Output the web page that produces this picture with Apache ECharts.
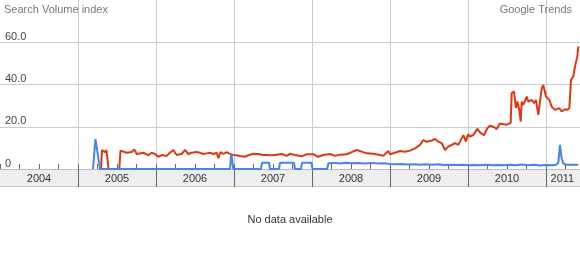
<!DOCTYPE html>
<html>
<head>
<meta charset="utf-8">
<script src="https://cdn.jsdelivr.net/npm/echarts@6/dist/echarts.min.js"></script>
<style>
  html, body { margin: 0; padding: 0; background: #ffffff; }
  #chart { width: 580px; height: 260px; }
</style>
</head>
<body>
<div id="chart"></div>
<script>
// Decimal-year positions and Search Volume index values
const redYears = [2005.295,2005.308,2005.333,2005.346,2005.365,2005.385,2005.392,2005.529,2005.545,2005.560,
  2005.624,2005.688,2005.722,2005.753,2005.837,2005.901,2005.945,2005.987,2006.029,2006.073,
  2006.137,2006.179,2006.222,2006.265,2006.329,2006.372,2006.414,2006.458,2006.522,2006.564,
  2006.606,2006.650,2006.692,2006.735,2006.778,2006.799,2006.829,2006.863,2006.906,2006.949,
  2006.991,2007.035,2007.077,2007.141,2007.183,2007.247,2007.269,2007.312,2007.376,2007.419,
  2007.483,2007.547,2007.612,2007.676,2007.718,2007.782,2007.868,2007.932,2008.017,2008.077,
  2008.145,2008.231,2008.295,2008.359,2008.445,2008.509,2008.573,2008.637,2008.701,2008.786,
  2008.872,2008.914,2008.978,2009.000,2009.064,2009.128,2009.192,2009.256,2009.321,2009.385,
  2009.427,2009.471,2009.535,2009.577,2009.619,2009.663,2009.705,2009.747,2009.791,2009.833,
  2009.876,2009.919,2009.942,2009.974,2010.000,2010.026,2010.068,2010.119,2010.163,2010.205,
  2010.247,2010.282,2010.324,2010.368,2010.410,2010.453,2010.496,2010.547,2010.560,2010.590,
  2010.615,2010.632,2010.658,2010.676,2010.688,2010.709,2010.753,2010.773,2010.795,2010.817,
  2010.846,2010.872,2010.901,2010.923,2010.945,2010.965,2011.000,2011.042,2011.073,2011.094,
  2011.115,2011.137,2011.171,2011.201,2011.222,2011.244,2011.273,2011.299,2011.321,2011.350,
  2011.372,2011.401,2011.414];
const redValues = [0,9.0,8.8,8.0,9.0,8.6,0,0,8.7,8.2,
  7.7,8.0,9.3,7.1,7.7,6.6,7.7,7.1,5.8,6.6,
  6.2,7.7,9.0,6.6,7.1,9.0,7.1,7.7,8.0,7.7,
  7.1,7.4,7.7,7.1,7.7,5.1,8.0,7.1,8.0,7.1,
  6.6,6.5,6.2,5.8,6.5,7.2,8.0,7.1,6.6,6.6,
  6.5,6.8,7.1,6.2,7.2,6.6,6.0,7.0,7.0,5.8,
  6.6,7.1,6.2,6.8,7.0,8.0,9.0,8.2,7.4,7.2,
  6.6,6.2,8.5,7.0,7.7,8.5,8.2,8.7,9.8,11.4,
  13.7,12.9,13.5,14.2,13.0,12.2,9.0,10.6,11.4,12.3,
  11.4,14.5,16.0,13.0,16.5,15.3,16.1,19.0,17.0,16.0,
  19.3,20.5,20.0,19.0,21.5,21.2,21.0,21.8,35.9,36.7,
  28.8,31.9,28.0,22.4,31.9,30.3,34.3,31.9,31.9,32.7,
  31.1,32.7,25.6,31.9,38.2,39.8,34.3,32.7,29.5,28.8,
  28.0,27.2,28.8,27.2,26.4,28.3,28.0,28.8,42.2,43.8,
  48.5,53.2,58.0];

const blueYears = [2005.192,2005.224,2005.237,2005.250,2005.269,2005.282,2006.949,2006.965,2006.991,2007.346,
  2007.359,2007.449,2007.462,2007.577,2007.590,2007.769,2007.782,2007.859,2007.872,2007.994,
  2008.006,2008.192,2008.212,2008.295,2008.359,2008.436,2008.513,2008.590,2008.679,2008.769,
  2008.846,2008.936,2009.000,2009.077,2009.154,2009.231,2009.308,2009.385,2009.462,2009.538,
  2009.615,2009.692,2009.769,2009.846,2009.923,2010.000,2010.077,2010.154,2010.231,2010.308,
  2010.385,2010.462,2010.538,2010.615,2010.692,2010.769,2010.846,2010.923,2011.000,2011.077,
  2011.128,2011.158,2011.179,2011.201,2011.222,2011.256,2011.333,2011.414];
const blueValues = [0,14.2,11.0,7.9,7.9,0,0,7.4,0,0,
  3.0,3.0,0,0,3.0,3.0,0,0,3.0,3.0,
  0,0,2.7,2.9,2.6,3.0,2.7,2.8,2.6,2.9,
  2.6,2.7,2.4,2.2,2.4,2.1,2.3,2.0,2.2,2.0,
  2.2,1.9,2.0,1.9,2.0,1.8,1.9,1.8,2.0,1.8,
  1.9,1.8,2.0,1.8,2.1,1.8,2.0,1.7,1.9,1.8,
  2.0,3.0,11.4,5.0,2.6,2.0,2.0,2.0];

const yearBoundaries = [2005, 2006, 2007, 2008, 2009, 2010, 2011];
const yearLabelPositions = [2004.5, 2005.5, 2006.5, 2007.5, 2008.5, 2009.5, 2010.5, 2011.21];
const yTicks = [0, 20, 40, 60];

const xMin = 2004, xMax = 2011.436;
const pair = (xs, ys) => xs.map((x, i) => [x, ys[i]]);
const FONT = '"Liberation Sans", Arial, sans-serif';

const chart = echarts.init(document.getElementById('chart'), null, { renderer: 'canvas' });
chart.setOption({
  animation: false,
  backgroundColor: '#ffffff',
  textStyle: { fontFamily: FONT },
  title: [
    { text: 'Search Volume index', left: 4, top: 4, padding: 0, textStyle: { fontSize: 11, fontWeight: 'normal', color: '#777777', fontFamily: FONT } },
    { text: 'Google Trends', right: 8, top: 4, padding: 0, textStyle: { fontSize: 11, fontWeight: 'normal', color: '#777777', fontFamily: FONT } },
    { text: 'No data available', left: 'center', top: 214, padding: 0, textStyle: { fontSize: 11, fontWeight: 'normal', color: '#333333', fontFamily: FONT } }
  ],
  graphic: [
    { type: 'rect', z: -10, silent: true, shape: { x: 0, y: 169, width: 580, height: 18 }, style: { fill: '#eeeeee' } },
    { type: 'line', z: -10, silent: true, shape: { x1: 0, y1: 186.5, x2: 580, y2: 186.5 }, style: { stroke: '#cccccc', lineWidth: 1 } }
  ],
  grid: { left: 0, right: 0, top: 0, bottom: 91, containLabel: false },
  xAxis: [
    {
      type: 'value', min: xMin, max: xMax, interval: 0.25, position: 'bottom',
      axisLine: { show: true, lineStyle: { color: '#bbbbbb', width: 1 } },
      axisTick: { show: true, inside: true, length: 5, lineStyle: { color: '#666666' } },
      axisLabel: { show: false },
      splitLine: { show: false }
    },
    {
      type: 'value', min: xMin, max: xMax, position: 'bottom',
      axisLine: { show: false },
      axisTick: { show: true, inside: false, length: 18, customValues: yearBoundaries, lineStyle: { color: '#666666' } },
      axisLabel: { show: false },
      splitLine: { show: true, lineStyle: { color: '#cccccc', width: 1 } }
    },
    {
      type: 'value', min: xMin, max: xMax, position: 'bottom',
      axisLine: { show: false },
      axisTick: { show: false },
      splitLine: { show: false },
      axisLabel: {
        show: true, customValues: yearLabelPositions, margin: 4,
        fontSize: 11, color: '#333333', fontFamily: FONT,
        formatter: v => String(Math.floor(v)),
        showMinLabel: true, showMaxLabel: true
      }
    }
  ],
  yAxis: {
    type: 'value', min: 0, max: 80, interval: 20, position: 'left',
    axisLine: { show: false },
    axisTick: { show: false },
    splitLine: { show: true, lineStyle: { color: ['#cccccc', '#cccccc', '#cccccc', '#cccccc', 'rgba(0,0,0,0)'], width: 1 } },
    axisLabel: {
      inside: true, margin: 5, verticalAlign: 'bottom', fontSize: 11, color: '#444444', fontFamily: FONT,
      formatter: v => (yTicks.indexOf(v) < 0 ? '' : (v === 0 ? '0' : v.toFixed(1)))
    }
  },
  series: [
    {
      type: 'line', name: 'red', xAxisIndex: 0, data: pair(redYears, redValues),
      showSymbol: false, symbol: 'none', lineStyle: { color: '#dc3912', width: 2 }, itemStyle: { color: '#dc3912' }, z: 3
    },
    {
      type: 'line', name: 'blue', xAxisIndex: 0, data: pair(blueYears, blueValues),
      showSymbol: false, symbol: 'none', lineStyle: { color: '#4684ee', width: 2 }, itemStyle: { color: '#4684ee' }, z: 4
    }
  ]
});
</script>
</body>
</html>
